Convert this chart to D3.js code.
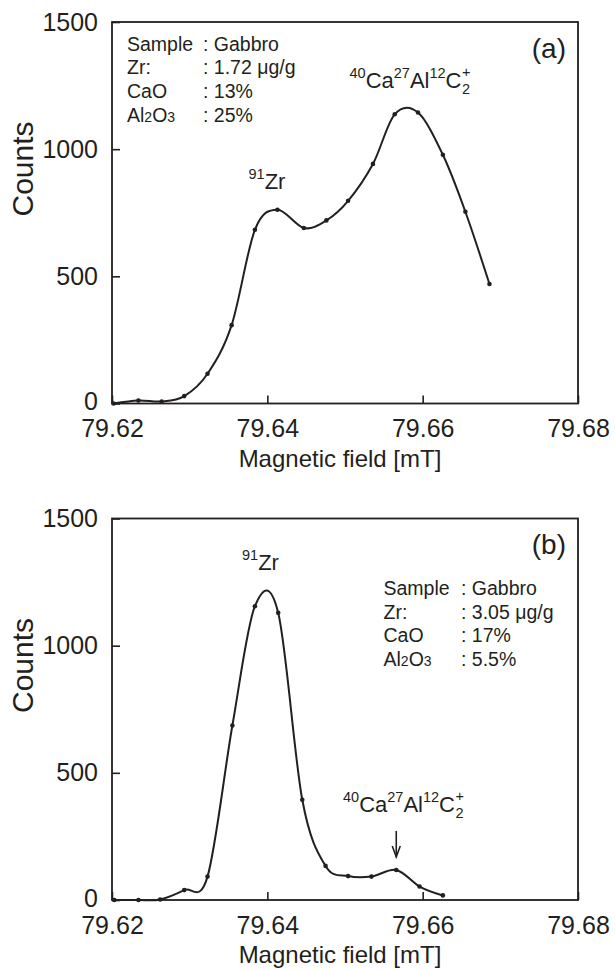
<!DOCTYPE html>
<html>
<head>
<meta charset="utf-8">
<script src="https://cdn.jsdelivr.net/npm/d3@7"></script>
<style>
  html, body { margin: 0; padding: 0; background: #fff; }
  svg text { font-family: "Liberation Sans", Arial, Helvetica, sans-serif; fill: #231f20; }
</style>
</head>
<body>
<svg id="chart" width="615" height="970"></svg>
<script>
// ---------------- data ----------------
const xTicks = [79.62, 79.64, 79.66, 79.68];
const yTicks = [0, 500, 1000, 1500];

const fieldA  = [79.6202, 79.6234, 79.6264, 79.6293, 79.6323, 79.6354, 79.6384, 79.6413, 79.6447,
                 79.6476, 79.6504, 79.6536, 79.6564, 79.6594, 79.6626, 79.6655, 79.6686];
const countsA = [0, 12, 8, 29, 117, 308, 683, 762, 690, 720, 797, 942, 1137, 1144, 978, 754, 470];

const fieldB  = [79.6203, 79.6234, 79.6262, 79.6293, 79.6323, 79.6355, 79.6384, 79.6414, 79.6445,
                 79.6475, 79.6504, 79.6534, 79.6566, 79.6596, 79.6626];
const countsB = [0, 0, 2, 39, 92, 686, 1155, 1129, 394, 134, 94, 92, 118, 53, 18];

const panelLabels = ["(a)", "(b)"];
const infoKeys = ["Sample", "Zr:", "CaO", "Al2O3"];
const infoValsA = [": Gabbro", ": 1.72 μg/g", ": 13%", ": 25%"];
const infoValsB = [": Gabbro", ": 3.05 μg/g", ": 17%", ": 5.5%"];
const xTitle = "Magnetic field [mT]";
const yTitle = "Counts";

// ---------------- drawing ----------------
const svg = d3.select("#chart");
const ink = "#231f20";
const left = 112, right = 578;

function addIsotope(g, xPos, yBase, parts) {
  const t = g.append("text").attr("x", xPos).attr("y", yBase).style("font-size", "22px");
  let shift = 0;
  parts.forEach(([s, kind]) => {
    const sp = t.append("tspan").text(s);
    if (kind === "sup") {
      sp.style("font-size", "14.5px").attr("dy", -10 - shift); shift = -10;
    } else {
      sp.attr("dy", -shift); shift = 0;
    }
  });
  return t;
}

function caAlC(g, xPos, yBase) {
  const t = addIsotope(g, xPos, yBase, [["40","sup"],["Ca","main"],["27","sup"],["Al","main"],["12","sup"],["C","main"]]);
  const end = xPos + t.node().getComputedTextLength();
  g.append("text").attr("x", end + 0.5).attr("y", yBase + 6).style("font-size", "14.5px").text("2");
  g.append("text").attr("x", end + 0.5).attr("y", yBase - 11).style("font-size", "14.5px").text("+");
}

function panel(top, field, counts, label, vals, infoX, infoY, colonX) {
  const bottom = top + 381.5;
  const g = svg.append("g");
  const x = d3.scaleLinear().domain([79.62, 79.68]).range([left, right]);
  const y = d3.scaleLinear().domain([0, 1500]).range([bottom, top]);

  // axes
  const xa = g.append("g").attr("transform", `translate(0,${bottom})`)
    .call(d3.axisBottom(x).tickValues(xTicks).tickSizeInner(-8).tickSizeOuter(0)
      .tickPadding(16).tickFormat(d3.format(".2f")));
  const ya = g.append("g").attr("transform", `translate(${left},0)`)
    .call(d3.axisLeft(y).tickValues(yTicks).tickSizeInner(-8).tickSizeOuter(0)
      .tickPadding(14).tickFormat(d3.format("d")));
  [xa, ya].forEach(a => {
    a.select(".domain").remove();
    a.selectAll(".tick line").attr("stroke", ink).attr("stroke-width", 1.6);
    a.selectAll(".tick text").style("font-size", "25px").attr("fill", ink);
  });
  ya.selectAll(".tick text").filter(d => d === 0).attr("dy", "0.25em");

  // frame
  g.append("rect").attr("x", left).attr("y", top).attr("width", right - left).attr("height", bottom - top)
    .attr("fill", "none").attr("stroke", ink).attr("stroke-width", 1.8);

  // titles
  g.append("text").attr("x", 340).attr("y", bottom + 63).attr("text-anchor", "middle")
    .style("font-size", "24px").text(xTitle);
  g.append("text").attr("transform", `translate(33,${top + 147}) rotate(-90)`).attr("text-anchor", "middle")
    .style("font-size", "30px").text(yTitle);

  // panel label
  g.append("text").attr("x", 566).attr("y", top + 35.5).attr("text-anchor", "end")
    .style("font-size", "28px").text(label);

  // info block
  infoKeys.forEach((k, i) => {
    const yy = infoY + i * 23.7;
    const t = g.append("text").attr("x", infoX).attr("y", yy).style("font-size", "19.5px");
    k.split(/(\d)/).filter(s => s.length).forEach(s => {
      const sp = t.append("tspan").text(s);
      if (/^\d$/.test(s)) sp.style("font-size", "14px");
    });
    g.append("text").attr("x", colonX).attr("y", yy).style("font-size", "19.5px").text(vals[i]);
  });

  // curve + points
  const pts = field.map((f, i) => ({ f, c: counts[i] }));
  const line = d3.line().x(d => x(d.f)).y(d => y(d.c)).curve(d3.curveCatmullRom.alpha(0));
  g.append("path").datum(pts).attr("d", line).attr("fill", "none").attr("stroke", ink).attr("stroke-width", 2);
  g.selectAll("circle.pt").data(pts).join("circle").attr("class", "pt")
    .attr("cx", d => x(d.f)).attr("cy", d => y(d.c)).attr("r", 2.3).attr("fill", ink);

  return { g, x, y };
}

// panel (a)
const pa = panel(22, fieldA, countsA, panelLabels[0], infoValsA, 127, 50.7, 203);
addIsotope(pa.g, 248.5, 188.5, [["91","sup"],["Zr","main"]]);
caAlC(pa.g, 349.5, 87.5);

// panel (b)
const pb = panel(518.5, fieldB, countsB, panelLabels[1], infoValsB, 383.5, 595, 461);
addIsotope(pb.g, 242, 570, [["91","sup"],["Zr","main"]]);
caAlC(pb.g, 343, 811.7);

// arrow pointing to the CaAlC2 bump in (b)
const ax = pb.x(fieldB[12]);
const tipY = pb.y(countsB[12]) - 13;
pb.g.append("line").attr("x1", ax).attr("x2", ax).attr("y1", tipY - 26).attr("y2", tipY)
  .attr("stroke", ink).attr("stroke-width", 1.6);
pb.g.append("path").attr("d", `M${ax - 4},${tipY - 11} L${ax},${tipY} L${ax + 4},${tipY - 11}`)
  .attr("fill", "none").attr("stroke", ink).attr("stroke-width", 1.6);
</script>
</body>
</html>
